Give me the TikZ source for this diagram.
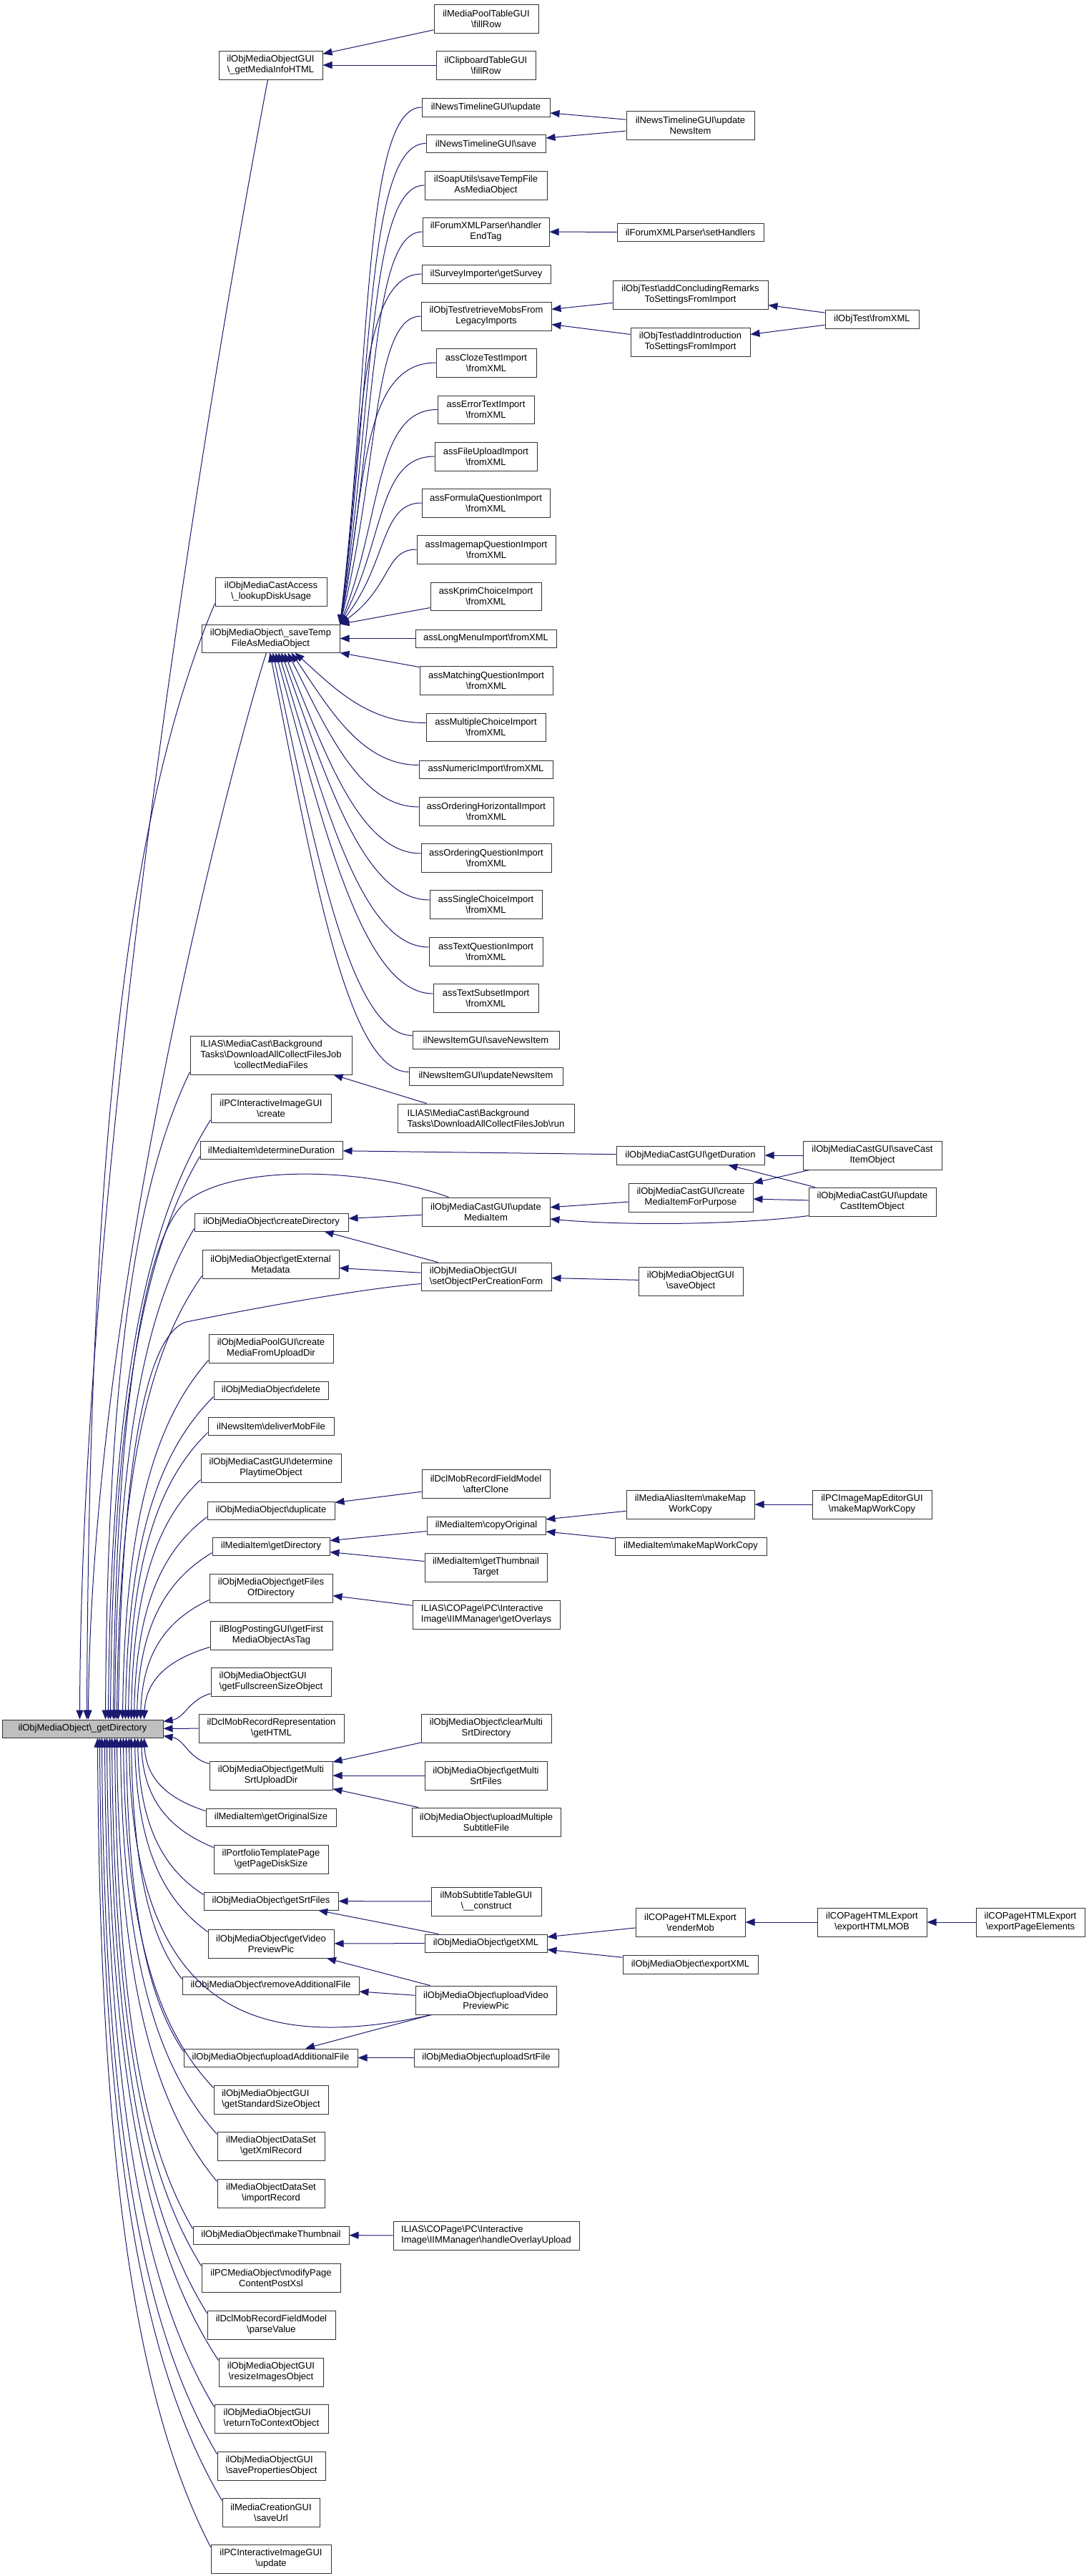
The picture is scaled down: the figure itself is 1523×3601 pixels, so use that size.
\documentclass[tikz,border=0pt]{standalone}
\usepackage{fontspec}
\setmainfont{Liberation Sans}
\usetikzlibrary{arrows.meta,calc}
\definecolor{eblue}{HTML}{191970}
\definecolor{rootgray}{HTML}{BFBFBF}
\definecolor{bordc}{HTML}{333333}
\newcommand\bsl{\textbackslash}
\newcommand\bx[7][box]{\node[#1,minimum width={#4-#3},minimum height={#6-#5}] (#2) at ({(#3+#4)/2},{(#5+#6)/2}) {#7};}
\newcommand\rtop[2]{\draw[e] let \p1=($(#2.south west)+(0,-4)$), \p2=($(root.north west)+(#1,0)$) in (\p2) .. controls ({\x2+3pt},{\y2+0.6*(\y1-\y2)}) and ({\x1-0.55*(\x1-\x2)},{\y1-0.15*(\y1-\y2)}) .. (\p1);}
\newcommand\rbot[2]{\draw[e] let \p1=($(#2.north west)+(0,4)$), \p2=($(root.south west)+(#1,0)$) in (\p2) .. controls ({\x2+3pt},{\y2+0.6*(\y1-\y2)}) and ({\x1-0.55*(\x1-\x2)},{\y1-0.15*(\y1-\y2)}) .. (\p1);}
\newcommand\stt[2]{\draw[e] let \p1=(#1.west), \p2=(stf.north east) in (\p2) .. controls ({#2pt},{\y2+0.5*(\y1-\y2)}) and ({#2pt-10pt},{\y1}) .. (\p1);}
\newcommand\stb[2]{\draw[e] let \p1=($(#1.west)+(0,-6)$), \p2=($(stf.south west)+(#2,0)$) in (\p2) .. controls ({\x2+0.3*(\x1-\x2)},{\y2+0.5*(\y1-\y2)}) and ({\x1-0.45*(\x1-\x2)},{\y1}) .. (\p1);}
\tikzset{
  box/.style={draw=bordc, line width=1pt, fill=white, inner sep=0pt, align=center, font=\fontsize{13}{15}\selectfont},
  lbox/.style={box, align=left},
  rootbox/.style={box, fill=rootgray},
  e/.style={draw=eblue, line width=1pt, {Triangle[length=13pt,width=10pt]}-},
}
\begin{document}
\begin{tikzpicture}[x=1pt,y=-1pt]
\fill[white] (0,0) rectangle (1523,3601);
\useasboundingbox (0,0) rectangle (1523,3601);
% root
\bx[rootbox]{root}{3}{228}{2404}{2429}{ilObjMediaObject\bsl\_getDirectory}
% column 2 and 3
\bx{mpool}{607}{753}{6}{46}{ilMediaPoolTableGUI\\\bsl fillRow}
\bx{clip}{610}{749}{71}{111}{ilClipboardTableGUI\\\bsl fillRow}
\bx{mih}{306}{451}{71}{111}{ilObjMediaObjectGUI\\\bsl\_getMediaInfoHTML}
\bx{ntu}{590}{769}{137}{163}{ilNewsTimelineGUI\bsl update}
\bx{nts}{596}{763}{188}{213}{ilNewsTimelineGUI\bsl save}
\bx{soap}{594}{765}{239}{279}{ilSoapUtils\bsl saveTempFile\\AsMediaObject}
\bx{fxh}{591}{768}{304}{344}{ilForumXMLParser\bsl handler\\EndTag}
\bx{surv}{590}{770}{370}{396}{ilSurveyImporter\bsl getSurvey}
\bx{rml}{589}{771}{422}{462}{ilObjTest\bsl retrieveMobsFrom\\LegacyImports}
\bx{cloze}{610}{750}{487}{527}{assClozeTestImport\\\bsl fromXML}
\bx{err}{612}{747}{553}{592}{assErrorTextImport\\\bsl fromXML}
\bx{fup}{608}{751}{618}{658}{assFileUploadImport\\\bsl fromXML}
\bx{form}{590}{769}{683}{723}{assFormulaQuestionImport\\\bsl fromXML}
\bx{imap}{583}{777}{748}{788}{assImagemapQuestionImport\\\bsl fromXML}
\bx{kprim}{602}{757}{814}{853}{assKprimChoiceImport\\\bsl fromXML}
\bx{lmd}{301}{457}{807}{847}{ilObjMediaCastAccess\\\bsl\_lookupDiskUsage}
\bx{stf}{282}{475}{873}{912}{ilObjMediaObject\bsl\_saveTemp\\FileAsMediaObject}
\bx{lmenu}{581}{778}{880}{905}{assLongMenuImport\bsl fromXML}
\bx{match}{587}{773}{931}{971}{assMatchingQuestionImport\\\bsl fromXML}
\bx{mc}{596}{763}{997}{1036}{assMultipleChoiceImport\\\bsl fromXML}
\bx{num}{586}{773}{1063}{1088}{assNumericImport\bsl fromXML}
\bx{ordh}{586}{774}{1114}{1154}{assOrderingHorizontalImport\\\bsl fromXML}
\bx{ordq}{589}{771}{1179}{1219}{assOrderingQuestionImport\\\bsl fromXML}
\bx{sc}{601}{758}{1244}{1284}{assSingleChoiceImport\\\bsl fromXML}
\bx{tq}{600}{759}{1310}{1350}{assTextQuestionImport\\\bsl fromXML}
\bx{ts}{606}{753}{1375}{1415}{assTextSubsetImport\\\bsl fromXML}
\bx{sni}{577}{782}{1441}{1466}{ilNewsItemGUI\bsl saveNewsItem}
\bx{uni}{572}{787}{1492}{1517}{ilNewsItemGUI\bsl updateNewsItem}
\bx{cmf}{266}{492}{1448}{1502}{\begin{tabular}{@{}l@{}}ILIAS\bsl MediaCast\bsl Background\\Tasks\bsl DownloadAllCollectFilesJob\\\multicolumn{1}{@{}c@{}}{\bsl collectMediaFiles}\end{tabular}}
\bx[lbox]{run}{556}{803}{1543}{1583}{ILIAS\bsl MediaCast\bsl Background\\Tasks\bsl DownloadAllCollectFilesJob\bsl run}
\bx{pcic}{295}{463}{1529}{1569}{ilPCInteractiveImageGUI\\\bsl create}
\bx{dd}{280}{479}{1595}{1620}{ilMediaItem\bsl determineDuration}
\bx{umi}{590}{769}{1674}{1714}{ilObjMediaCastGUI\bsl update\\MediaItem}
\bx{cd}{272}{487}{1696}{1721}{ilObjMediaObject\bsl createDirectory}
\bx{gem}{283}{474}{1747}{1787}{ilObjMediaObject\bsl getExternal\\Metadata}
\bx[lbox]{sopcf}{589}{771}{1765}{1804}{ilObjMediaObjectGUI\\\bsl setObjectPerCreationForm}
\bx{cmfud}{292}{466}{1865}{1905}{ilObjMediaPoolGUI\bsl create\\MediaFromUploadDir}
\bx{del}{299}{459}{1931}{1956}{ilObjMediaObject\bsl delete}
\bx{dmf}{291}{467}{1981}{2006}{ilNewsItem\bsl deliverMobFile}
\bx{dpo}{281}{477}{2032}{2072}{ilObjMediaCastGUI\bsl determine\\PlaytimeObject}
\bx{ac}{590}{769}{2054}{2094}{ilDclMobRecordFieldModel\\\bsl afterClone}
\bx{dup}{290}{468}{2099}{2124}{ilObjMediaObject\bsl duplicate}
\bx{co}{597}{763}{2120}{2145}{ilMediaItem\bsl copyOriginal}
\bx{migd}{297}{461}{2149}{2174}{ilMediaItem\bsl getDirectory}
\bx{gtt}{594}{765}{2171}{2211}{ilMediaItem\bsl getThumbnail\\Target}
\bx{gfod}{293}{465}{2200}{2240}{ilObjMediaObject\bsl getFiles\\OfDirectory}
\bx[lbox]{gov}{577}{783}{2237}{2277}{ILIAS\bsl COPage\bsl PC\bsl Interactive\\Image\bsl IIMManager\bsl getOverlays}
\bx{gfm}{294}{465}{2266}{2306}{ilBlogPostingGUI\bsl getFirst\\MediaObjectAsTag}
\bx[lbox]{gfs}{295}{463}{2331}{2371}{ilObjMediaObjectGUI\\\bsl getFullscreenSizeObject}
\bx{dmr}{278}{481}{2396}{2436}{ilDclMobRecordRepresentation\\\bsl getHTML}
\bx{cms}{589}{771}{2396}{2436}{ilObjMediaObject\bsl clearMulti\\SrtDirectory}
\bx{gmsu}{293}{465}{2462}{2502}{ilObjMediaObject\bsl getMulti\\SrtUploadDir}
\bx{gmsf}{594}{765}{2462}{2502}{ilObjMediaObject\bsl getMulti\\SrtFiles}
\bx{umsf}{576}{784}{2527}{2567}{ilObjMediaObject\bsl uploadMultiple\\SubtitleFile}
\bx{gos}{288}{470}{2528}{2553}{ilMediaItem\bsl getOriginalSize}
\bx{gpds}{299}{459}{2579}{2619}{ilPortfolioTemplatePage\\\bsl getPageDiskSize}
\bx{gsf}{285}{473}{2645}{2670}{ilObjMediaObject\bsl getSrtFiles}
\bx{mst}{603}{757}{2638}{2678}{ilMobSubtitleTableGUI\\\bsl\_\_construct}
\bx{gvp}{291}{467}{2697}{2737}{ilObjMediaObject\bsl getVideo\\PreviewPic}
\bx{gxml}{594}{765}{2704}{2729}{ilObjMediaObject\bsl getXML}
\bx{raf}{255}{502}{2763}{2788}{ilObjMediaObject\bsl removeAdditionalFile}
\bx{uvp}{581}{778}{2776}{2816}{ilObjMediaObject\bsl uploadVideo\\PreviewPic}
\bx{uaf}{257}{500}{2864}{2889}{ilObjMediaObject\bsl uploadAdditionalFile}
\bx{usrt}{579}{781}{2864}{2889}{ilObjMediaObject\bsl uploadSrtFile}
\bx[lbox]{gsso}{299}{459}{2915}{2955}{ilObjMediaObjectGUI\\\bsl getStandardSizeObject}
\bx{gxr}{304}{454}{2980}{3020}{ilMediaObjectDataSet\\\bsl getXmlRecord}
\bx{ir}{304}{454}{3046}{3086}{ilMediaObjectDataSet\\\bsl importRecord}
\bx{mt}{270}{488}{3112}{3137}{ilObjMediaObject\bsl makeThumbnail}
\bx[lbox]{hou}{550}{810}{3105}{3145}{ILIAS\bsl COPage\bsl PC\bsl Interactive\\Image\bsl IIMManager\bsl handleOverlayUpload}
\bx{mpc}{282}{476}{3164}{3204}{ilPCMediaObject\bsl modifyPage\\ContentPostXsl}
\bx{pv}{290}{469}{3230}{3270}{ilDclMobRecordFieldModel\\\bsl parseValue}
\bx{rio}{306}{452}{3296}{3336}{ilObjMediaObjectGUI\\\bsl resizeImagesObject}
\bx[lbox]{rtc}{300}{459}{3361}{3401}{ilObjMediaObjectGUI\\\bsl returnToContextObject}
\bx[lbox]{spo}{304}{455}{3427}{3467}{ilObjMediaObjectGUI\\\bsl savePropertiesObject}
\bx{su}{311}{447}{3492}{3532}{ilMediaCreationGUI\\\bsl saveUrl}
\bx{pciu}{295}{463}{3557}{3597}{ilPCInteractiveImageGUI\\\bsl update}
% right columns
\bx{ntuni}{876}{1055}{155}{195}{ilNewsTimelineGUI\bsl update\\NewsItem}
\bx{fsh}{863}{1068}{312}{337}{ilForumXMLParser\bsl setHandlers}
\bx{acr}{857}{1074}{392}{432}{ilObjTest\bsl addConcludingRemarks\\ToSettingsFromImport}
\bx{ai}{882}{1049}{458}{498}{ilObjTest\bsl addIntroduction\\ToSettingsFromImport}
\bx{ofx}{1154}{1285}{433}{459}{ilObjTest\bsl fromXML}
\bx{gdur}{862}{1069}{1602}{1628}{ilObjMediaCastGUI\bsl getDuration}
\bx{scio}{1123}{1317}{1595}{1635}{ilObjMediaCastGUI\bsl saveCast\\ItemObject}
\bx{cmifp}{879}{1053}{1654}{1694}{ilObjMediaCastGUI\bsl create\\MediaItemForPurpose}
\bx{ucio}{1131}{1309}{1660}{1700}{ilObjMediaCastGUI\bsl update\\CastItemObject}
\bx{so}{893}{1039}{1771}{1811}{ilObjMediaObjectGUI\\\bsl saveObject}
\bx{mamwc}{876}{1055}{2083}{2123}{ilMediaAliasItem\bsl makeMap\\WorkCopy}
\bx{pcimwc}{1136}{1303}{2083}{2123}{ilPCImageMapEditorGUI\\\bsl makeMapWorkCopy}
\bx{mimwc}{860}{1072}{2149}{2174}{ilMediaItem\bsl makeMapWorkCopy}
\bx{rm}{889}{1042}{2667}{2707}{ilCOPageHTMLExport\\\bsl renderMob}
\bx{ehm}{1143}{1296}{2667}{2707}{ilCOPageHTMLExport\\\bsl exportHTMLMOB}
\bx{epe}{1365}{1517}{2667}{2707}{ilCOPageHTMLExport\\\bsl exportPageElements}
\bx{exml}{871}{1060}{2733}{2759}{ilObjMediaObject\bsl exportXML}
% ---- edges into the root
\draw[e] ($(root.north west)+(109,0)$) .. controls +(2,-700) and +(-116,613) .. ($(mih.south)+(-4,0)$);
\rtop{119}{lmd}
\draw[e] ($(root.north west)+(121,0)$) .. controls +(4,-600) and +(-45,140) .. ($(stf.south west)+(91,0)$);
\rtop{145}{cmf}
\rtop{149}{pcic}
\rtop{152}{dd}
\draw[e] ($(root.north west)+(156,0)$) .. controls +(3,-420) and +(-60,50) .. (260,1680) .. controls +(70,-55) and +(-110,-40) .. ($(umi.north west)+(38,0)$);
\rtop{158}{cd}
\rtop{161}{gem}
\draw[e] ($(root.north west)+(163,0)$) .. controls +(3,-300) and +(-65,22) .. (260,1848) .. controls +(100,-20) and +(-90,8) .. ($(sopcf.west)+(0,10)$);
\rtop{169}{cmfud}
\rtop{173}{del}
\rtop{177}{dmf}
\rtop{181}{dpo}
\rtop{185}{dup}
\rtop{189}{migd}
\rtop{194}{gfod}
\rtop{199}{gfm}
\draw[e] ($(root.north east)+(0,3)$) .. controls +(30,-5) and +(-30,8) .. ($(gfs.south west)+(0,-4)$);
\draw[e] (root) -- (dmr);
\draw[e] ($(root.south east)+(0,-3)$) .. controls +(30,5) and +(-30,-8) .. ($(gmsu.north west)+(0,4)$);
\rbot{199}{gos}
\rbot{195}{gpds}
\rbot{190}{gsf}
\rbot{186}{gvp}
\rbot{181}{raf}
\draw[e] ($(root.south west)+(178,0)$) .. controls +(4,360) and +(-270,60) .. ($(uvp.south west)+(23,0)$);
\rbot{174}{uaf}
\rbot{170}{gsso}
\rbot{166}{gxr}
\rbot{161}{ir}
\rbot{158}{mt}
\rbot{154}{mpc}
\rbot{151}{pv}
\rbot{147}{rio}
\rbot{144}{rtc}
\rbot{140}{spo}
\rbot{137}{su}
\rbot{134}{pciu}
% ---- edges into saveTempFileAsMediaObject
\stt{ntu}{518}
\stt{nts}{521}
\stt{soap}{524}
\stt{fxh}{527}
\stt{surv}{508}
\stt{rml}{530}
\stt{cloze}{512}
\stt{err}{534}
\stt{fup}{538}
\stt{form}{542}
\stt{imap}{548}
\draw[e] (stf.north east) -- ($(kprim.south west)+(0,-4)$);
\draw[e] (stf) -- (lmenu);
\draw[e] (stf.south east) -- ($(match.north west)+(0,2)$);
\stb{mc}{131}
\stb{num}{126}
\stb{ordh}{121}
\stb{ordq}{116}
\stb{sc}{112}
\stb{tq}{108}
\stb{ts}{104}
\stb{sni}{100}
\stb{uni}{96}
% ---- other edges
\draw[e] (mih) -- (mpool);
\draw[e] (mih) -- (clip);
\draw[e] (ntu) -- (ntuni);
\draw[e] (nts) -- (ntuni);
\draw[e] (fxh) -- (fsh);
\draw[e] (rml) -- (acr);
\draw[e] (rml) -- (ai);
\draw[e] (acr) -- (ofx);
\draw[e] (ai) -- (ofx);
\draw[e] ($(cmf.south east)+(-26,0)$) -- ($(run.north west)+(41,0)$);
\draw[e] (dd) -- (gdur);
\draw[e] (gdur) -- (scio);
\draw[e] (gdur) -- (ucio);
\draw[e] (cmifp) -- (scio);
\draw[e] (cmifp) -- (ucio);
\draw[e] (umi) -- (cmifp);
\draw[e] ($(umi.east)+(0,10)$) .. controls +(110,10) and +(-90,12) .. ($(ucio.south west)+(0,-1)$);
\draw[e] (cd) -- (umi);
\draw[e] ($(cd.south east)+(-34,0)$) -- ($(sopcf.north west)+(24,0)$);
\draw[e] (gem) -- (sopcf);
\draw[e] (sopcf) -- (so);
\draw[e] (dup) -- (ac);
\draw[e] (migd) -- (co);
\draw[e] (migd) -- (gtt);
\draw[e] (co) -- (mamwc);
\draw[e] (co) -- (mimwc);
\draw[e] (mamwc) -- (pcimwc);
\draw[e] (gfod) -- (gov);
\draw[e] (gmsu) -- (cms);
\draw[e] (gmsu) -- (gmsf);
\draw[e] (gmsu) -- (umsf);
\draw[e] (gsf) -- (mst);
\draw[e] (gsf) -- (gxml);
\draw[e] (gvp) -- (gxml);
\draw[e] (gvp) -- (uvp);
\draw[e] (raf) -- (uvp);
\draw[e] (uaf) -- (uvp);
\draw[e] (uaf) -- (usrt);
\draw[e] (gxml) -- (rm);
\draw[e] (gxml) -- (exml);
\draw[e] (rm) -- (ehm);
\draw[e] (ehm) -- (epe);
\draw[e] (mt) -- (hou);
\end{tikzpicture}
\end{document}
